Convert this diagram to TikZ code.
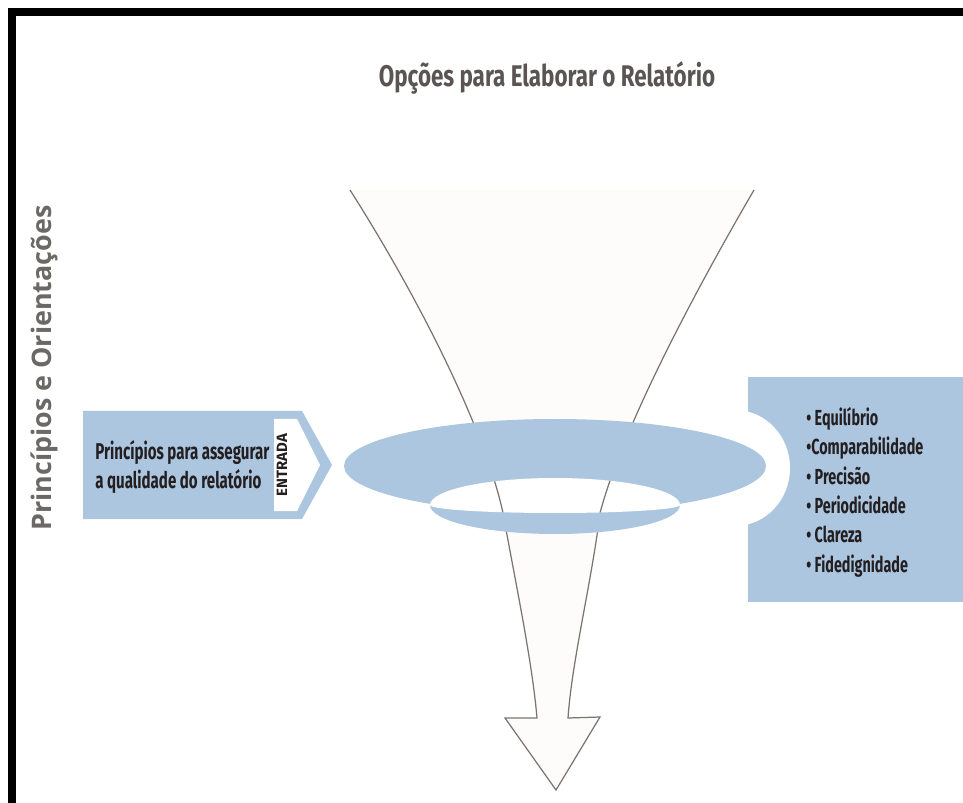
\documentclass[tikz,border=0pt]{standalone}
\usepackage{fontspec}
\newfontfamily\condfont[FakeStretch=0.66]{Fira Sans}
\newfontfamily\titlefont[FakeStretch=0.75]{Fira Sans}
\newfontfamily\plainfont{Fira Sans}
\newfontfamily\sidefont{Open Sans}
\definecolor{anelazul}{HTML}{ADC6DF}
\definecolor{textoescuro}{HTML}{231F20}
\definecolor{titulocinza}{HTML}{5A5552}
\definecolor{ladocinza}{HTML}{6B6866}
\definecolor{funilfundo}{HTML}{FDFCFA}
\definecolor{funillinha}{HTML}{7A7470}

\begin{document}
\begin{tikzpicture}[x=0.02cm,y=-0.02cm,every node/.style={inner sep=0pt,text=textoescuro},
	linhafunil/.style={draw=funillinha,line width=0.7pt},
	titulo/.style={font=\titlefont\bfseries\fontsize{17}{20}\selectfont,text=titulocinza},
	lateral/.style={font=\sidefont\bfseries\fontsize{15.3}{17}\selectfont,text=ladocinza},
	caixatexto/.style={font=\condfont\bfseries\fontsize{13}{17}\selectfont,align=left},
	lista/.style={font=\condfont\bfseries\fontsize{12.4}{16.7}\selectfont,align=left}]

	\useasboundingbox (0,0) rectangle (963,803);
	\fill[black] (8,8) rectangle (963,16);
	\fill[black] (8,8) rectangle (16,803);

	% caixas azuis
	\fill[anelazul] (748,377) rectangle (963,602);
	\fill[white] (735,468) ellipse [x radius=55,y radius=58];
	\fill[anelazul] (83,411) -- (302,411) -- (332,465) -- (302,519) -- (83,519) -- cycle;
	\fill[white] (274,419) -- (297,419) -- (320,465) -- (297,511) -- (274,511) -- cycle;

	% funil
	\path[save path=\funil] (350,190) .. controls (420,300) and (485,430) .. (503,513)
		.. controls (515,580) and (532,660) .. (537,718) -- (505,718) -- (556,790) -- (600,717) -- (568,718)
		.. controls (572,660) and (592,580) .. (600,513) .. controls (622,430) and (690,300) .. (754,190);
	\fill[funilfundo,use path=\funil];
	\draw[linhafunil,use path=\funil];

	% anel
	\fill[anelazul] (555,466) ellipse [x radius=211,y radius=47];
	\fill[anelazul] (555,505) ellipse [x radius=125,y radius=29];
	\path[save path=\furo] (430,505) arc [start angle=180,end angle=360,x radius=125,y radius=27]
		arc [start angle=0,end angle=180,x radius=125,y radius=8] -- cycle;
	\fill[white,use path=\furo];
	\begin{scope}
		\clip[use path=\furo];
		\draw[linhafunil,use path=\funil];
	\end{scope}

	\node[titulo] (titulo) at (547,78) {Opções para Elaborar o Relatório};
	\node[lateral,rotate=90] (eixo) at (44,368) {Princípios e Orientações};
	\node[caixatexto,anchor=west] (principios) at (95,467) {Princípios para assegurar\\a qualidade do relatório};
	\node[font=\plainfont\bfseries\fontsize{8.5}{9}\selectfont,rotate=90] (entrada) at (282,465) {ENTRADA};
	\node[lista,anchor=north west] (criterios) at (806,407) {• Equilíbrio\\•Comparabilidade\\• Precisão\\• Periodicidade\\• Clareza\\• Fidedignidade};

\end{tikzpicture}
\end{document}
